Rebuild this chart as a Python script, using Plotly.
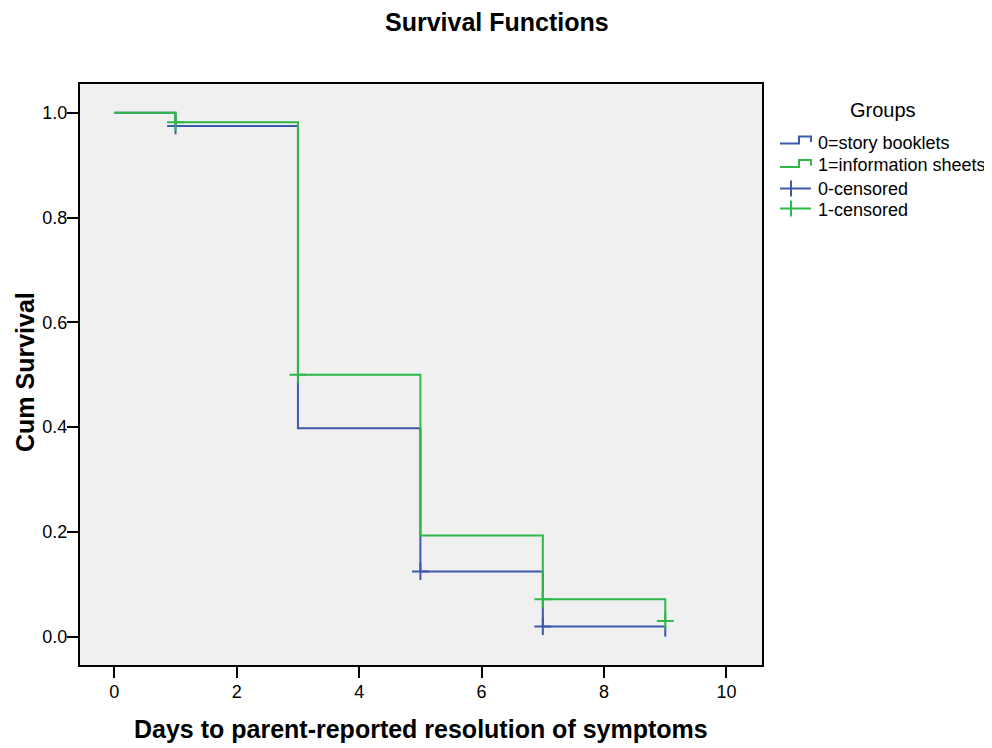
import plotly.graph_objects as go

# ---- data ----
time_g0 = [0, 1, 3, 5, 7, 9]
surv_g0 = [1.0, 0.975, 0.398, 0.1245, 0.0195, 0.0]
time_g1 = [0, 1, 3, 5, 7, 9]
surv_g1 = [1.0, 0.982, 0.500, 0.193, 0.0714, 0.030]
cens_time_g0 = [1, 5, 7]
cens_surv_g0 = [0.975, 0.1245, 0.0195]
cens_time_g1 = [1, 3, 7, 9]
cens_surv_g1 = [0.982, 0.500, 0.0714, 0.030]
legend_labels = ["0=story booklets", "1=information sheets", "0-censored", "1-censored"]
x_ticks = [0, 2, 4, 6, 8, 10]
y_ticks = [0.0, 0.2, 0.4, 0.6, 0.8, 1.0]

BLUE = "#3E58AC"
GREEN = "#2EB848"
FONT = "Liberation Sans, Arial, sans-serif"

OFF = 8  # page body margin
W, H = 992 - OFF, 748 - OFF
L, R, T, B = 80 - OFF, 762 - OFF, 84 - OFF, 665 - OFF

def px(x):
    return (x - OFF - L) / (R - L)

def py(y):
    return (B - (y - OFF)) / (B - T)

fig = go.Figure()
fig.add_trace(go.Scatter(x=time_g0, y=surv_g0, mode="lines", line=dict(color=BLUE, width=2, shape="hv"),
                         name=legend_labels[0], showlegend=False))
fig.add_trace(go.Scatter(x=cens_time_g0, y=cens_surv_g0, mode="markers",
                         marker=dict(symbol="cross-thin", size=12, line=dict(color=BLUE, width=2)),
                         name=legend_labels[2], showlegend=False))
fig.add_trace(go.Scatter(x=time_g1, y=surv_g1, mode="lines", line=dict(color=GREEN, width=2, shape="hv"),
                         name=legend_labels[1], showlegend=False))
fig.add_trace(go.Scatter(x=cens_time_g1, y=cens_surv_g1, mode="markers",
                         marker=dict(symbol="cross-thin", size=12, line=dict(color=GREEN, width=2)),
                         name=legend_labels[3], showlegend=False))

annotations = [
    dict(text="<b>Survival Functions</b>", x=px(497), y=py(22), xref="paper", yref="paper",
         xanchor="center", yanchor="middle", showarrow=False, font=dict(size=25, color="black", family=FONT)),
    dict(text="<b>Days to parent-reported resolution of symptoms</b>", x=px(421), y=py(729), xref="paper", yref="paper",
         xanchor="center", yanchor="middle", showarrow=False, font=dict(size=25, color="black", family=FONT)),
    dict(text="<b>Cum Survival</b>", x=px(25), y=py(372), xref="paper", yref="paper", textangle=-90,
         xanchor="center", yanchor="middle", showarrow=False, font=dict(size=25, color="black", family=FONT)),
    dict(text="Groups", x=px(883), y=py(110), xref="paper", yref="paper",
         xanchor="center", yanchor="middle", showarrow=False, font=dict(size=20, color="black", family=FONT)),
]
text_y = [143, 165, 189, 210]
for lab, ty in zip(legend_labels, text_y):
    annotations.append(dict(text=lab, x=px(816), y=py(ty), xref="paper", yref="paper",
                            xanchor="left", yanchor="middle", showarrow=False,
                            font=dict(size=18, color="black", family=FONT)))

shapes = []
def path(points):
    return "M " + " L ".join(f"{px(a)},{py(b)}" for a, b in points)

shapes.append(dict(type="path", xref="paper", yref="paper",
                   path=path([(780, 143.5), (799, 143.5), (799, 136.5), (811, 136.5), (811, 142)]),
                   line=dict(color=BLUE, width=2)))
shapes.append(dict(type="path", xref="paper", yref="paper",
                   path=path([(780, 167), (799, 167), (799, 160), (811, 160), (811, 165.5)]),
                   line=dict(color=GREEN, width=2)))
for cy, col in [(188.5, BLUE), (208.5, GREEN)]:
    shapes.append(dict(type="line", xref="paper", yref="paper", x0=px(780), x1=px(811), y0=py(cy), y1=py(cy),
                       line=dict(color=col, width=2)))
    shapes.append(dict(type="line", xref="paper", yref="paper", x0=px(791), x1=px(791), y0=py(cy - 8), y1=py(cy + 8),
                       line=dict(color=col, width=2)))

fig.update_layout(
    width=W, height=H,
    margin=dict(l=L, r=W - R, t=T, b=H - B),
    paper_bgcolor="white", plot_bgcolor="#F0F0F0",
    font=dict(family=FONT, size=18, color="black"),
    showlegend=False,
    annotations=annotations,
    shapes=shapes,
)
fig.update_xaxes(range=[-0.56, 10.58], tickvals=x_ticks, ticktext=[str(v) for v in x_ticks],
                 ticks="outside", ticklen=11, tickwidth=2, tickcolor="black",
                 showline=True, linecolor="black", linewidth=2, mirror=True,
                 showgrid=False, zeroline=False, tickfont=dict(size=18, family=FONT),
                 ticklabelstandoff=-2)
fig.update_yaxes(range=[-0.054, 1.055], tickvals=y_ticks, ticktext=[f"{v:.1f}" for v in y_ticks],
                 ticks="outside", ticklen=11, tickwidth=2, tickcolor="black",
                 showline=True, linecolor="black", linewidth=2, mirror=True,
                 showgrid=False, zeroline=False, tickfont=dict(size=18, family=FONT),
                 ticklabelstandoff=-4)

fig.write_html("out.html")
